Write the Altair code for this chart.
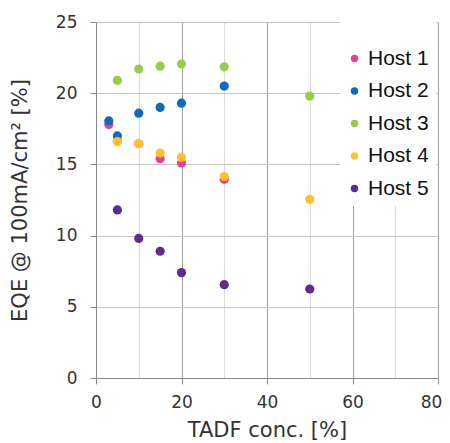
import altair as alt
import pandas as pd

hosts = ["Host 1", "Host 2", "Host 3", "Host 4", "Host 5"]
colors = ["#E8409A", "#0F6CBD", "#9BCB4B", "#FFC12E", "#5B2C91"]

h1_x = [3, 5, 10, 15, 20, 30]
h1_y = [17.8, 16.65, 16.45, 15.4, 15.1, 13.95]
h2_x = [3, 5, 10, 15, 20, 30]
h2_y = [18.05, 17.0, 18.6, 19.0, 19.3, 20.5]
h3_x = [5, 10, 15, 20, 30, 50]
h3_y = [20.9, 21.7, 21.9, 22.05, 21.85, 19.8]
h4_x = [5, 10, 15, 20, 30, 50]
h4_y = [16.6, 16.45, 15.8, 15.5, 14.15, 12.55]
h5_x = [5, 10, 15, 20, 30, 50]
h5_y = [11.8, 9.8, 8.9, 7.4, 6.55, 6.25]

x_ticks = [0, 10, 20, 30, 40, 50, 60, 70, 80]
y_ticks = [0, 5, 10, 15, 20, 25]

rows = []
for name, xs, ys in zip(hosts, [h1_x, h2_x, h3_x, h4_x, h5_x], [h1_y, h2_y, h3_y, h4_y, h5_y]):
    for xv, yv in zip(xs, ys):
        rows.append({"host": name, "conc": xv, "eqe": yv})
df = pd.DataFrame(rows)

FONT = "DejaVu Sans"

x_axis = alt.Axis(
    values=x_ticks,
    labelExpr="datum.value % 20 == 0 ? datum.label : ''",
    labelFlush=False,
    labelOffset=alt.condition("datum.value == 80", alt.value(-7), alt.value(0)),
    gridColor=alt.condition("datum.value % 20 == 0", alt.value("#a0a0a0"), alt.value("#dcdcdc")),
    tickColor=alt.condition("datum.value % 20 == 0", alt.value("#888888"), alt.value("transparent")),
    tickSize=6,
    domainColor="#888888",
    labelFont=FONT, labelFontSize=17, labelColor="#333333", labelPadding=10,
    title="TADF conc. [%]", titleFont=FONT, titleFontSize=21, titleFontWeight="normal",
    titleColor="#333333", titlePadding=9,
)
y_axis = alt.Axis(
    values=y_ticks,
    labelFlush=False,
    gridColor="#c4c4c4",
    tickColor="#888888", tickSize=6,
    domainColor="#888888",
    labelFont=FONT, labelFontSize=17, labelColor="#333333", labelPadding=13,
    title="EQE @ 100mA/cm² [%]", titleFont=FONT, titleFontSize=21, titleFontWeight="normal",
    titleColor="#333333", titlePadding=25,
)

points = alt.Chart(df).mark_circle(size=85, opacity=1).encode(
    x=alt.X("conc:Q", scale=alt.Scale(domain=[0, 80], nice=False), axis=x_axis),
    y=alt.Y("eqe:Q", scale=alt.Scale(domain=[0, 25], nice=False), axis=y_axis),
    color=alt.Color(
        "host:N",
        scale=alt.Scale(domain=hosts, range=colors),
        legend=alt.Legend(
            orient="none", legendX=248, legendY=26, title=None, padding=0,
            labelFont="Liberation Sans", labelFontSize=21, labelColor="#111111",
            symbolType="circle", symbolSize=55, symbolStrokeWidth=0,
            rowPadding=10.5, labelOffset=3,
        ),
    ),
    order=alt.Order("idx:Q"),
).transform_window(idx="row_number()")

bg = alt.Chart(pd.DataFrame({"a": [0]})).mark_rect(fill="white").encode(
    x=alt.value(244), x2=alt.value(340), y=alt.value(0), y2=alt.value(184)
)

chart = alt.layer(bg, points).properties(
    width=342, height=356,
    autosize=alt.AutoSizeParams(type="none"),
    padding={"left": 88, "top": 14, "right": 4, "bottom": 62},
).configure_view(stroke=None).configure(background="white")

chart.save("out.html", embed_options={"renderer": "svg", "actions": False})
